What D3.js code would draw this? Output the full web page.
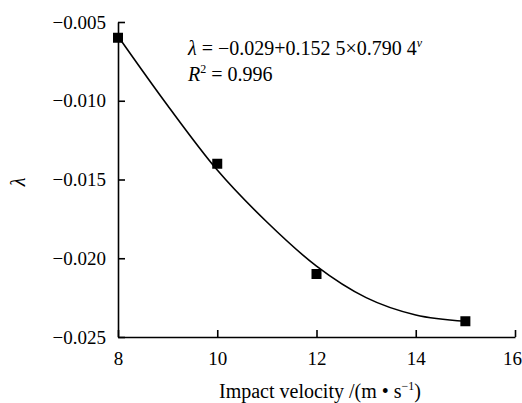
<!DOCTYPE html>
<html>
<head>
<meta charset="utf-8">
<script src="https://cdn.jsdelivr.net/npm/d3@7"></script>
<style>
  body { margin: 0; background: #fff; }
</style>
</head>
<body>
<svg id="chart" width="522" height="403"></svg>
<script>
// measured points
const velocity = [8, 10, 12, 15];
const lambda = [-0.006, -0.014, -0.021, -0.024];

// fitted curve
const fitVelocity = [8, 9, 10, 11, 12, 13, 14, 15];
const fitLambda = [-0.0059, -0.0103, -0.0144, -0.0177, -0.0205, -0.0225, -0.0236, -0.0240];

const xTicks = [8, 10, 12, 14, 16];
const yTicks = [-0.025, -0.020, -0.015, -0.010, -0.005];

const FONT = 'Liberation Serif';

let svg = d3.select('#chart').attr('font-family', FONT);
let margin = {top: 22, right: 7, bottom: 66, left: 118};
let width = 522 - margin.left - margin.right,
    height = 403 - margin.top - margin.bottom;

let g = svg.append('g').attr('transform', 'translate(' + margin.left + ',' + margin.top + ')');

let x = d3.scaleLinear().domain([8, 16]).range([0, width]);
let y = d3.scaleLinear().domain([-0.025, -0.005]).range([height, 0]);

// axes, ticks point inward
let yAxis = d3.axisLeft(y).tickValues(yTicks).tickFormat(d3.format('.3f'))
              .tickSizeInner(-7).tickSizeOuter(0).tickPadding(12);
let xAxis = d3.axisBottom(x).tickValues(xTicks).tickFormat(d3.format('d'))
              .tickSizeInner(-7).tickSizeOuter(0).tickPadding(14.5);

let gy = g.append('g').call(yAxis);
let gx = g.append('g').attr('transform', 'translate(0,' + height + ')').call(xAxis);

[gx, gy].forEach(function(a) {
    a.attr('font-family', FONT).attr('font-size', 19);
    a.selectAll('path, line').attr('stroke', '#000').attr('stroke-width', 1.6);
    a.selectAll('text').attr('font-family', FONT).attr('fill', '#000');
});

// last x label sits right at the page edge, nudge it in a bit
gx.selectAll('.tick text').filter(function(d) { return d === 16 }).attr('dx', -3);

// fitted curve
let line = d3.line()
             .x(function(d, i) { return x(fitVelocity[i]) })
             .y(function(d) { return y(d) })
             .curve(d3.curveMonotoneX);

g.append('path')
 .datum(fitLambda)
 .attr('d', line)
 .attr('fill', 'none')
 .attr('stroke', '#000')
 .attr('stroke-width', 1.6);

// square markers
let s = 10;
g.selectAll('rect.pt').data(lambda).enter()
 .append('rect')
 .attr('class', 'pt')
 .attr('x', function(d, i) { return x(velocity[i]) - s / 2 })
 .attr('y', function(d) { return y(d) - s / 2 })
 .attr('width', s)
 .attr('height', s)
 .attr('fill', '#000');

// equation
let eq = svg.append('text').attr('x', 188).attr('y', 55)
            .attr('font-family', FONT).attr('font-size', 20);
eq.append('tspan').attr('font-style', 'italic').text('λ');
eq.append('tspan').text(' = −0.029+0.152 5×0.790 4');
eq.append('tspan').attr('font-style', 'italic').attr('font-size', 12)
  .attr('dy', -8).text('v');

let r2 = svg.append('text').attr('x', 188).attr('y', 81)
            .attr('font-family', FONT).attr('font-size', 20);
r2.append('tspan').attr('font-style', 'italic').text('R');
r2.append('tspan').attr('font-size', 12).attr('dy', -8).text('2');
r2.append('tspan').attr('dy', 8).text(' = 0.996');

// axis titles
let xl = svg.append('text').attr('x', 320).attr('y', 398)
            .attr('text-anchor', 'middle')
            .attr('font-family', FONT).attr('font-size', 20);
xl.append('tspan').text('Impact velocity /(m • s');
xl.append('tspan').attr('font-size', 12).attr('dy', -8).text('−1');
xl.append('tspan').attr('dy', 8).text(')');

svg.append('text')
   .attr('transform', 'translate(25,182) rotate(-90)')
   .attr('text-anchor', 'middle')
   .attr('font-family', FONT)
   .attr('font-size', 20)
   .attr('font-style', 'italic')
   .text('λ');
</script>
</body>
</html>
